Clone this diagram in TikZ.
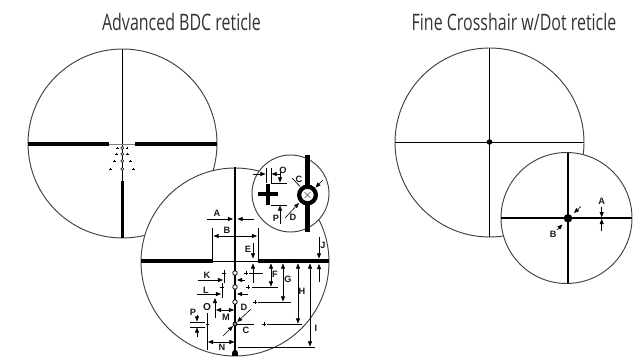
\documentclass[tikz,border=0pt]{standalone}
\usepackage{fontspec}
\setmainfont{Liberation Sans}
\newfontfamily\titlefont{Open Sans}
\usetikzlibrary{arrows.meta}
\tikzset{
  x=0.75pt,y=-0.75pt,
  scopecircle/.style={draw=black!75,line width=0.7pt,fill=white},
  hair/.style={draw=black,line width=0.5pt},
  wire/.style={draw=black,line width=0.85pt},
  heavy/.style={draw=black,line width=3pt},
  dim/.style={draw=black,line width=0.45pt,-{Triangle[length=3.8pt,width=3pt]}},
  dimboth/.style={draw=black,line width=0.45pt,{Triangle[length=3.8pt,width=3pt]}-{Triangle[length=3.8pt,width=3pt]}},
  lab/.style={font=\bfseries\fontsize{6.9pt}{7pt}\selectfont,inner sep=0pt,text=black!90},
  titletext/.style={font=\titlefont\fontsize{17pt}{19pt}\selectfont,text=black!80,inner sep=0pt,xscale=0.705},
  ring/.style={circle,draw=black,line width=0.6pt,fill=white,inner sep=0pt,minimum size=3.4pt},
  smallring/.style={circle,draw=black,line width=0.4pt,fill=white,inner sep=0pt,minimum size=2.2pt},
  plusm/.pic={\draw[line width=0.6pt] (-2.3,0)--(2.3,0) (0,-2.3)--(0,2.3);},
  pluss/.pic={\draw[line width=0.5pt] (-1.4,0)--(1.4,0) (0,-1.4)--(0,1.4);}
}
\begin{document}
\begin{tikzpicture}
\useasboundingbox (0,0) rectangle (636,359);
% titles
\node[titletext] (t1) at (181.5,22) {Advanced BDC reticle};
\node[titletext] (t2) at (514,22) {Fine Crosshair w/Dot reticle};

% left large reticle
\draw[scopecircle] (122.5,143.5) circle[radius=94.5];
\draw[line width=0.5pt] (122.3,49)--(122.3,181);
\draw[line width=0.5pt,black!50] (109,144)--(135,144);
\draw[heavy] (28,144)--(109,144);
\draw[heavy] (135,144)--(216.5,144);
\draw[line width=2.6pt] (122.3,181)--(122.3,238);
\foreach \yy/\dx in {148/4.7,154/5.5,161/8,169/11.5}{
  \node[smallring] at (122.3,\yy) {};
  \pic at (122.3-\dx,\yy) {pluss};
  \pic at (122.3+\dx,\yy) {pluss};
}

% lower left magnified reticle
\draw[scopecircle] (235,262) circle[radius=94];
\draw[wire] (235,167)--(235,351);
\draw[hair] (213,261)--(258,261);
\draw[line width=3.6pt] (141.3,261)--(213,261);
\draw[line width=3.6pt] (258,261)--(328.7,261);
\fill (232,356)--(232.3,352)--(235,348.5)--(237.7,352)--(238,356)--cycle;
% A, B
\draw[dim] (207,219)--(233,219);
\draw[dim] (254,219)--(237.5,219);
\node[lab] at (217,213) {A};
\draw[hair] (212.5,228)--(212.5,261);
\draw[hair] (258,228)--(258,261);
\draw[dimboth] (213.5,236)--(257,236);
\node[lab] at (227,230) {B};
% E
\draw[dim] (253,243)--(253,258.5);
\draw[dim] (253,283)--(253,263.5);
\node[lab] at (248,249) {E};
\draw[hair] (249,273)--(263,273);
\pic at (246,273) {plusm};
% J
\draw[dim] (319,237)--(319,258.5);
\draw[dim] (319,282)--(319,264);
\node[lab] at (323,245) {J};
% F G H I
\draw[dimboth] (271,263.5)--(271,286.5);
\node[lab] at (275,274) {F};
\draw[hair] (252,287)--(278,287);
\pic at (248,287) {plusm};
\draw[dimboth] (283,263.5)--(283,301.5);
\node[lab] at (288,279) {G};
\draw[hair] (258,302)--(291,302);
\pic at (255,302) {plusm};
\draw[dimboth] (298,263.5)--(298,323.5);
\node[lab] at (302,291) {H};
\draw[hair] (267,324)--(302,324);
\pic at (264,324) {plusm};
\draw[dimboth] (310,263.5)--(310,346.5);
\node[lab] at (316,328) {I};
\draw[hair] (238,347)--(315,347);
% line to the right of lowest circle
\draw[hair] (235,324)--(254,324);
% rings on the post
\node[ring] at (235,273) {};
\node[ring] at (235,287) {};
\node[ring] at (235,302) {};
\node[circle,draw=black,line width=0.6pt,fill=black!45,inner sep=0pt,minimum size=3pt] at (235,324) {};
% K
\pic at (224,273) {plusm};
\draw[hair] (224,270)--(224,283);
\draw[dim] (198,280)--(223,280);
\draw[dim] (245,280)--(237,280);
\node[lab] at (207,275) {K};
% L
\pic at (222,287) {plusm};
\draw[hair] (222,283)--(222,298);
\draw[dim] (197,294)--(221,294);
\draw[dim] (248,294)--(237,294);
\node[lab] at (206,290) {L};
% M
\draw[dim] (215,318)--(215,298);
\pic at (215,302) {pluss};
\draw[dimboth] (216,310)--(234,310);
\node[lab] at (226,317) {M};
% O, N
\node[lab,font=\bfseries\fontsize{7.6pt}{8pt}\selectfont] at (207,307) {O};
\draw[hair] (207,313)--(207,350);
\draw[dimboth] (208,342)--(234.5,342);
\node[lab] at (222,347) {N};
% P
\node[lab] at (193,312) {P};
\draw[hair] (190,322)--(205,322);
\draw[hair] (190,327)--(205,327);
\pic at (207.5,324.5) {pluss};
\draw[dim] (197,315)--(197,321.5);
\draw[dim] (197,337)--(197,327.5);
% D, C
\draw[dim] (251,309)--(237.2,322);
\draw[dim] (223,336)--(233,326);
\node[lab] at (244,307) {D};
\node[lab] at (246,330) {C};

% inset
\draw[scopecircle] (290.5,193.5) circle[radius=38.5];
\draw[line width=3.3pt] (307.5,155.2)--(307.5,231.8);
\node[circle,draw=black,line width=3.2pt,fill=white,inner sep=0pt,minimum size=12.5pt] (bigring) at (307.5,195) {};
\draw[line width=0.4pt,black!70] (304.5,192)--(310.5,198) (304.5,198)--(310.5,192);
\draw[line width=3pt] (258,194)--(278,194);
\draw[line width=3pt] (268,184)--(268,205);
\draw[hair] (266,168)--(266,183);
\draw[hair] (271,168)--(271,183);
\draw[dim] (253,174)--(265.5,174);
\draw[dim] (281,174)--(271.5,174);
\node[lab] at (283,170) {O};
\draw[hair] (271,183)--(287,183);
\draw[hair] (271,205)--(287,205);
\draw[dim] (280,172)--(280,182.5);
\draw[dim] (280,224)--(280,205.5);
\node[lab] at (276,218) {P};
\draw[hair] (292,178)--(300,186.5);
\node[lab] at (299,179) {C};
\draw[dim] (323,180)--(315.5,187.5);
\draw[dim] (285,218)--(299,203);
\node[lab] at (293,217) {D};

% right large reticle
\draw[scopecircle] (489.5,142.5) circle[radius=94.5];
\draw[line width=0.55pt] (489.5,48)--(489.5,237);
\draw[line width=0.55pt] (395,142)--(584,142);
\fill (489.5,142) circle[radius=2.8];

% right inset
\draw[scopecircle] (566.5,218) circle[radius=65.5];
\draw[wire] (568,153)--(568,283);
\draw[wire] (501,218)--(632,218);
\fill (568,218.3) circle[radius=4.3];
\draw[dim] (580.7,206.7)--(574,213);
\draw[dim] (556.7,230)--(562.5,224.5);
\node[lab] at (553.3,234) {B};
\draw[dim] (601.7,206.7)--(601.7,217.3);
\draw[dim] (601.7,231)--(601.7,219);
\node[lab] at (601.7,201.7) {A};
\end{tikzpicture}
\end{document}
